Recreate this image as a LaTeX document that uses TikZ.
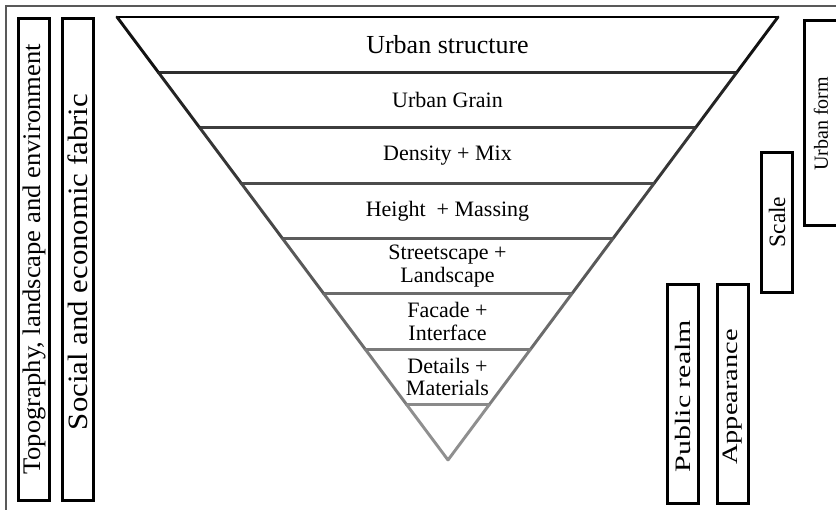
\documentclass[tikz,border=0pt]{standalone}
\usepackage{fontspec}
\setmainfont{Liberation Serif}
\usepackage{graphicx}

\begin{document}
\begin{tikzpicture}[x=0.75pt,y=-0.75pt,
    tri/.style={line width=2.2pt, line cap=round},
    box/.style={line width=2.2pt},
    band/.style={align=center, font=\fontsize{16.5}{17}\selectfont},
    side/.style={rotate=90, inner sep=0pt}]
  \useasboundingbox (0,0) rectangle (836,510);
  \clip (0,0) rectangle (836,510);
  % thin frame
  \draw[black!65, line width=0.8pt] (6,510) -- (6,6) -- (836,6);
  % corner points of the bands
  \foreach \k in {0,...,8} {
    \pgfmathsetmacro\yk{17+\k*55.375}
    \coordinate (L\k) at ({117+(\yk-17)*0.7472},\yk);
    \coordinate (R\k) at ({778-(\yk-17)*0.7449},\yk);
  }
  \draw[tri, black] (L0) -- (R0);
  \foreach \k in {1,...,7} {
    \pgfmathtruncatemacro\shade{88-6*\k}
    \draw[tri, black!\shade] (L\k) -- (R\k);
  }
  \foreach \k in {1,...,8} {
    \pgfmathtruncatemacro\km{\k-1}
    \pgfmathtruncatemacro\shade{100-7*\k}
    \draw[tri, black!\shade] (L\km) -- (L\k);
    \draw[tri, black!\shade] (R\km) -- (R\k);
  }
  % band labels
  \node[band, font=\fontsize{19.5}{20}\selectfont] (struct) at (447.5,44.7) {Urban structure};
  \node[band] (grain) at (447.5,100) {Urban Grain};
  \node[band] (density) at (447.5,155.4) {Density + Mix};
  \node[band] (height) at (447.5,210.8) {Height\ \ + Massing};
  \node[band] (street) at (447.5,266.2) {Streetscape +\\Landscape};
  \node[band] (facade) at (447.5,321.6) {Facade +\\Interface};
  \node[band] (details) at (447.5,376.9) {Details +\\Materials};
  % side boxes
  \draw[box] (18.5,18.5) rectangle (49.5,500.5);
  \draw[box] (62.5,18.5) rectangle (93.5,500.5);
  \draw[box] (804.5,20.5) rectangle (840,225.5);
  \draw[box] (761.5,152.5) rectangle (792.5,292.5);
  \draw[box] (667.5,284.5) rectangle (698.5,503.5);
  \draw[box] (717.5,284.5) rectangle (748.5,503.5);
  \node[side, font=\fontsize{19}{19}\selectfont] (topo) at (34,259.5) {\scalebox{1.05}[1]{Topography, landscape and environment}};
  \node[side, font=\fontsize{21}{21}\selectfont] (social) at (78,262) {\scalebox{1.1}[1]{Social and economic fabric}};
  \node[side, font=\fontsize{15}{15}\selectfont] (form) at (821,124) {Urban form};
  \node[side, font=\fontsize{17.6}{18}\selectfont] (scale) at (777,222) {Scale};
  \node[side, font=\fontsize{16.5}{17}\selectfont] (public) at (683,396) {\scalebox{1.36}[1]{Public realm}};
  \node[side, font=\fontsize{16.5}{17}\selectfont] (appear) at (733,397) {\scalebox{1.29}[1]{Appearance}};
\end{tikzpicture}
\end{document}
